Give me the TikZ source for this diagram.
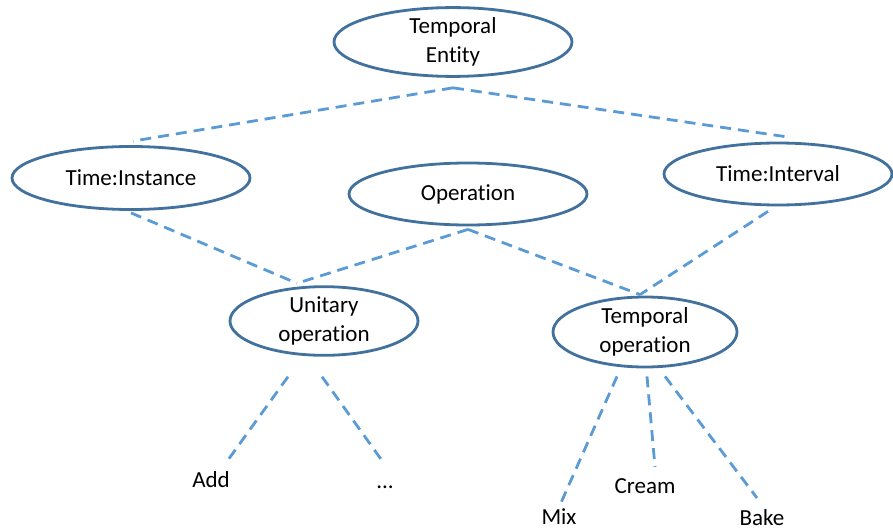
\documentclass[tikz,border=0pt]{standalone}
\usepackage{fontspec}
\setmainfont{Carlito}[Ligatures={NoCommon,NoContextual}]
\usetikzlibrary{shapes.geometric,calc}
\definecolor{ringblue}{HTML}{41719C}
\definecolor{linkblue}{HTML}{5B9BD5}
\tikzset{
  concept/.style={ellipse, draw=ringblue, line width=2.8pt, inner sep=0pt,
    align=center, font=\fontsize{23}{29}\selectfont},
  leaf/.style={inner sep=0pt, font=\fontsize{23}{29}\selectfont},
  link/.style={draw=linkblue, line width=2.8pt, dash pattern=on 11pt off 7pt}
}
\begin{document}
\begin{tikzpicture}[x=1pt,y=-1pt]
\useasboundingbox (0,0) rectangle (893,532);
% class hierarchy
\node[concept, minimum width=238pt, minimum height=50pt] (te) at (453,42) {Temporal\\Entity};
\node[concept, minimum width=238pt, minimum height=63pt] (ti) at (131,178) {Time:Instance};
\node[concept, minimum width=238pt, minimum height=62pt] (op) at (468,194) {Operation};
\node[concept, minimum width=228pt, minimum height=62pt] (tv) at (778,174) {Time:Interval};
\node[concept, minimum width=188pt, minimum height=58pt] (uo) at (324,321) {Unitary\\operation};
\node[concept, minimum width=184pt, minimum height=70pt] (to) at (645,332) {Temporal\\operation};
% instances
\node[leaf] (add) at (211,480) {Add};
\node[leaf] (etc) at (385,487) {...};
\node[leaf] (mix) at (559,517) {Mix};
\node[leaf] (cream) at (645,486) {Cream};
\node[leaf] (bake) at (762,518) {Bake};
% subclass links
\draw[link] ($(te.south)+(0,10)$) -- ($(ti.north)+(2,-4)$);
\draw[link] ($(te.south)+(0,10)$) -- ($(tv.north)+(7,-5)$);
\draw[link] ($(ti.south)+(0,2)$) -- ($(uo.north)+(-27,-2)$);
\draw[link] ($(op.south)+(0,3)$) -- ($(uo.north)+(-27,-2)$);
\draw[link] ($(op.south)+(0,3)$) -- ($(to.north)+(-5,-1)$);
\draw[link] ($(tv.south)+(-10,5)$) -- ($(to.north)+(-5,-1)$);
% instance links
\draw[link] ($(uo.south)+(-36,20)$) -- ($(add)+(17,-20)$);
\draw[link] ($(uo.south)+(-2,20)$) -- ($(etc)+(-2,-25)$);
\draw[link] ($(to.south)+(-28,8)$) -- ($(mix)+(1,-12)$);
\draw[link] ($(to.south)+(2,8)$) -- ($(cream)+(10,-19)$);
\draw[link] ($(to.south)+(20,8)$) -- ($(bake)+(-5,-20)$);
\end{tikzpicture}
\end{document}
